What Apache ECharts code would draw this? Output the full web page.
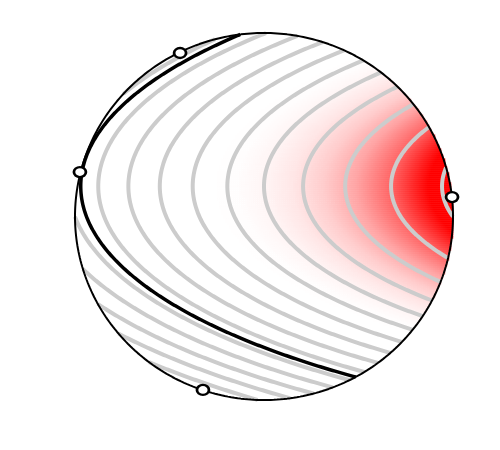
<!DOCTYPE html>
<html>
<head>
<meta charset="utf-8">
<title>topomap</title>
<script src="https://cdn.jsdelivr.net/npm/echarts@6/dist/echarts.min.js"></script>
<style>
    html, body { margin: 0; padding: 0; background: #fff; }
    #chart1 { width: 500px; height: 450px; }
</style>
</head>
<body>
<div id="chart1"></div>
<script>
// sensor positions on the outline (x to the right, y up, radius 1)
var sensorX = [-0.444, -0.974, 0.995, -0.323];
var sensorY = [0.891, 0.242, 0.106, -0.945];

// field: linear in x, bend in x, spread across y, axis y
var fieldParams = [1.0, -0.16, 1.45, 0.165];

// contour levels
var grayLevels = [-2.0, -1.8, -1.6, -1.4, -1.2, -1.0, -0.8, -0.6, -0.4, -0.2, 0, 0.2, 0.4, 0.6, 0.8];
var blackLevels = [-1.12];

// colour scale
var colorRange = [-0.3, 0.75];
var colorList = ['#ffffff', '#fffdfd', '#fff5f5', '#ffe6e6', '#ffcccc', '#ffa4a4', '#ff6464', '#ff0000'];

var cols = 189, rows = 184;

function fieldAt(x, y) {
    var dy = y - fieldParams[3];
    return fieldParams[0] * x + fieldParams[1] * x * x - fieldParams[2] * dy * dy;
}
function inside(p) {
    return !isNaN(p[0]) && p[0] * p[0] + p[1] * p[1] <= 1;
}
// point of a level line at offset dy from the axis
function levelPoint(level, dy) {
    var a = fieldParams[1], b = fieldParams[0];
    var c = level + fieldParams[2] * dy * dy;
    var d = b * b + 4 * a * c;
    var x = d < 0 ? NaN : (-b + Math.sqrt(d)) / (2 * a);
    return [x, fieldParams[3] + dy];
}
function edgePoint(level, dyIn, dyOut) {
    for (var k = 0; k < 30; k++) {
        var mid = (dyIn + dyOut) / 2;
        if (inside(levelPoint(level, mid))) dyIn = mid; else dyOut = mid;
    }
    return levelPoint(level, dyIn);
}
function traceLevels(levels) {
    var out = [];
    levels.forEach(function (level) {
        var seg = [], prev = null;
        for (var dy = -1.4; dy <= 1.4; dy += 0.004) {
            var p = levelPoint(level, dy);
            if (inside(p)) {
                if (seg.length === 0 && prev !== null) seg.push(edgePoint(level, dy, prev));
                seg.push(p);
            } else if (seg.length) {
                seg.push(edgePoint(level, dy - 0.004, dy));
                out.push({coords: seg});
                seg = [];
            }
            prev = dy;
        }
        if (seg.length) out.push({coords: seg});
    });
    return out;
}

var xCats = [], yCats = [], cells = [];
for (var i = 0; i < cols; i++) xCats.push(i);
for (var j = 0; j < rows; j++) yCats.push(j);
for (i = 0; i < cols; i++) {
    for (j = 0; j < rows; j++) {
        var x = -1 + (i + 0.5) * 2 / cols;
        var y = -1 + (j + 0.5) * 2 / rows;
        if (x * x + y * y <= 1.003) cells.push([i, j, fieldAt(x, y)]);
    }
}

var outline = [];
for (var deg = 0; deg <= 360; deg++) {
    outline.push([Math.cos(deg * Math.PI / 180), Math.sin(deg * Math.PI / 180)]);
}
var sensors = sensorX.map(function (v, k) { return [v, sensorY[k]]; });

var chart1 = echarts.init(document.getElementById('chart1'));
var gridBox = {left: 75, top: 33, width: 378, height: 367};
var option = {
    animation: false,
    grid: [
        Object.assign({}, gridBox),
        Object.assign({}, gridBox)
    ],
    xAxis: [
        {type: 'category', data: xCats, gridIndex: 0, show: false},
        {type: 'value', min: -1, max: 1, gridIndex: 1, show: false}
    ],
    yAxis: [
        {type: 'category', data: yCats, gridIndex: 0, show: false},
        {type: 'value', min: -1, max: 1, gridIndex: 1, show: false}
    ],
    visualMap: {
        type: 'continuous',
        show: false,
        seriesIndex: 0,
        min: colorRange[0],
        max: colorRange[1],
        inRange: {color: colorList}
    },
    series: [{
        type: 'heatmap',
        xAxisIndex: 0,
        yAxisIndex: 0,
        data: cells,
        progressive: 0,
        emphasis: {disabled: true}
    }, {
        type: 'lines',
        coordinateSystem: 'cartesian2d',
        xAxisIndex: 1,
        yAxisIndex: 1,
        polyline: true,
        silent: true,
        lineStyle: {color: '#cccccc', width: 4, opacity: 1},
        data: traceLevels(grayLevels),
        z: 3
    }, {
        type: 'lines',
        coordinateSystem: 'cartesian2d',
        xAxisIndex: 1,
        yAxisIndex: 1,
        polyline: true,
        silent: true,
        lineStyle: {color: '#000000', width: 3.5, opacity: 1},
        data: traceLevels(blackLevels),
        z: 4
    }, {
        type: 'line',
        xAxisIndex: 1,
        yAxisIndex: 1,
        data: outline,
        showSymbol: false,
        silent: true,
        lineStyle: {color: '#000000', width: 2},
        z: 5
    }, {
        type: 'scatter',
        xAxisIndex: 1,
        yAxisIndex: 1,
        data: sensors,
        symbol: 'circle',
        symbolSize: [12, 10],
        itemStyle: {color: '#ffffff', borderColor: '#000000', borderWidth: 2.5, opacity: 1},
        z: 6
    }]
};
chart1.setOption(option, true);
</script>
</body>
</html>
